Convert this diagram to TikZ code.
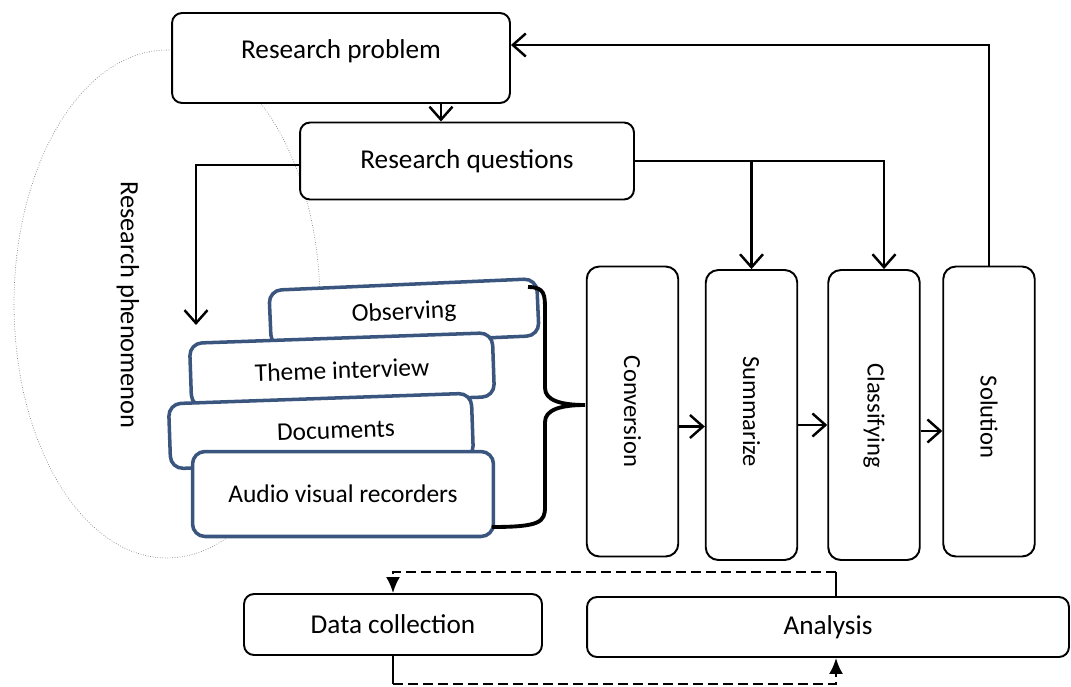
\documentclass[tikz,border=0pt]{standalone}
\usepackage{fontspec}
\setmainfont{Carlito}
\usepackage{graphicx}
\usetikzlibrary{arrows.meta,calc}
\definecolor{stackblue}{RGB}{58,86,126}

\begin{document}
\begin{tikzpicture}[x=0.02cm, y=-0.02cm,
    box/.style={draw, rounded corners=0.2cm, line width=1.1pt, fill=white, font=\fontsize{15.5}{18}\selectfont},
    colbox/.style={box, rounded corners=0.25cm, minimum width=1.83cm, minimum height=5.8cm, font=\fontsize{14}{16}\selectfont},
    srcbox/.style={draw=stackblue, line width=2pt, rounded corners=0.25cm, fill=white, font=\fontsize{14.5}{17}\selectfont},
    arr/.style={line width=1.4pt, -{Straight Barb[length=2.6mm,width=4.6mm,line width=1.4pt]}},
    fb/.style={line width=1.3pt, dash pattern=on 0.2cm off 0.1cm, -{Latex[length=3.2mm,width=2.8mm]}}]
    \useasboundingbox (0,0) rectangle (1071,686);

    % phenomenon outline
    \draw[gray, densely dotted, thin] (167,304) ellipse (3.06cm and 5.08cm);
    \node[rotate=-90, font=\fontsize{15}{18}\selectfont] (phenlbl) at (128,305) {Research phenomenon};

    \node[box, minimum width=6.76cm, minimum height=1.8cm] (prob) at (341,58) {\raisebox{0.36cm}{Research problem}};
    \node[box, minimum width=6.68cm, minimum height=1.54cm] (ques) at (467,161) {Research questions};

    % data sources
    \node[srcbox, minimum width=5.36cm, minimum height=1.14cm, rotate=2.5] (obs) at (404,313) {Observing};
    \node[srcbox, minimum width=6.06cm, minimum height=1.28cm, rotate=2] (theme) at (342,370) {Theme interview\hspace{1.2cm}};
    \node[srcbox, minimum width=6.06cm, minimum height=1.3cm, rotate=2] (docs) at (321,431) {\hspace{0.6cm}Documents};
    \node[srcbox, minimum width=6.02cm, minimum height=1.7cm] (audio) at (343,494) {Audio visual recorders};
    \draw[line width=2.2pt] (528,287) .. controls (545,287) and (545,295) .. (545,310) -- (545,388)
        .. controls (545,400) and (560,405) .. (585,405) .. controls (560,405) and (545,410) .. (545,422)
        -- (545,507) .. controls (545,522) and (540,527) .. (492,527);

    % processing columns
    \node[colbox] (conv) at (632.5,411.5) {\rotatebox[origin=c]{-90}{Conversion}};
    \node[colbox] (summ) at (751.5,415) {\raisebox{-0.1cm}[0pt][0pt]{\rotatebox[origin=c]{-90}{Summarize}}};
    \node[colbox] (clas) at (874,415) {\raisebox{-0.14cm}[0pt][0pt]{\rotatebox[origin=c]{-90}{Classifying}}};
    \node[colbox] (sol) at (989,411.5) {\raisebox{-0.28cm}[0pt][0pt]{\rotatebox[origin=c]{-90}{Solution}}};

    \node[box, minimum width=5.96cm, minimum height=1.22cm] (coll) at (393,624.5) {Data collection};
    \node[box, minimum width=9.64cm, minimum height=1.2cm] (anal) at (828,627) {Analysis};

    \coordinate (phen) at (196,325);
    \draw[arr] ([xshift=2cm]prob.south) -- ([xshift=2cm]prob.south |- ques.north);
    \draw[arr] ([yshift=-0.08cm]ques.west) -| (phen);
    \draw[arr] (ques.east) -| ([xshift=0.2cm]clas.north);
    \draw[arr] (ques.east -| summ.north) -- (summ.north);
    \draw[arr] (sol.north) |- ([yshift=0.26cm]prob.east);

    \draw[arr] ([yshift=-0.3cm]conv.east) -- ([yshift=-0.3cm]conv.east -| summ.west);
    \draw[arr] ([yshift=-0.2cm]summ.east) -- ([yshift=-0.2cm]summ.east -| clas.west);
    \draw[arr] ([yshift=-0.32cm]clas.east) -- ([yshift=-0.32cm]clas.east -| sol.west);

    % feedback loop
    \draw[line width=0.8pt] ([xshift=0.16cm]anal.north) -- ++(0,0.48cm) coordinate (ta);
    \draw[fb] (ta) -| (coll.north);
    \draw[line width=0.8pt] (coll.south) -- ++(0,-0.56cm) coordinate (tb);
    \draw[fb] (tb) -| ([xshift=0.16cm]anal.south);
\end{tikzpicture}
\end{document}
